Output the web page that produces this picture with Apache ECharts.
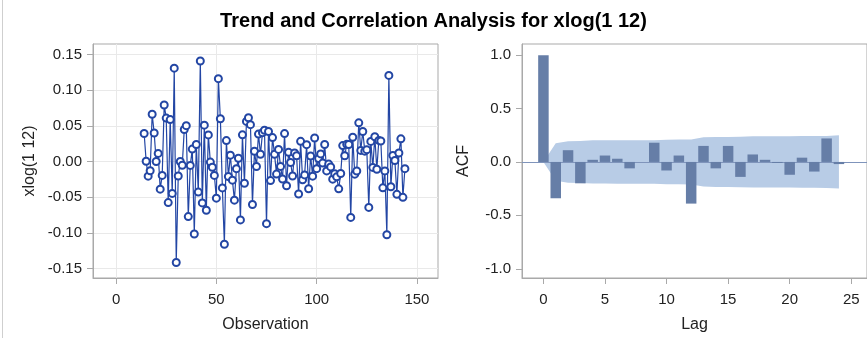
<!DOCTYPE html>
<html><head><meta charset="utf-8">
<script src="https://cdn.jsdelivr.net/npm/echarts@6/dist/echarts.min.js"></script>
<style>html,body{margin:0;padding:0;background:#fff}#c{width:867px;height:338px}</style>
</head><body><div id="c"></div>
<script>
// ---- data ----
const firstObservation = 14;
const xlogValues = [
 0.0392, 0.0004,-0.0205,-0.0129, 0.0662, 0.0399, 0.0000, 0.0114,-0.0387,-0.0194,
 0.0792, 0.0608,-0.0575, 0.0587,-0.0446, 0.1307,-0.1413,-0.0203, 0.0000,-0.0052,
 0.0449, 0.0502,-0.0771,-0.0054, 0.0174,-0.1014, 0.0238,-0.0428, 0.1407,-0.0579,
 0.0509,-0.0682, 0.0373,-0.0008,-0.0080,-0.0194,-0.0513, 0.1160, 0.0599,-0.0369,
-0.1157, 0.0293,-0.0210, 0.0089,-0.0261,-0.0541,-0.0100, 0.0046,-0.0817, 0.0374,
-0.0304, 0.0562, 0.0613, 0.0516,-0.0601, 0.0144,-0.0069, 0.0384, 0.0102, 0.0404,
 0.0438,-0.0869, 0.0421,-0.0267, 0.0335, 0.0101,-0.0176, 0.0170,-0.0068,-0.0246,
 0.0391,-0.0339, 0.0129,-0.0013,-0.0202, 0.0121, 0.0081,-0.0454, 0.0283,-0.0255,
-0.0187, 0.0236,-0.0381, 0.0076,-0.0205, 0.0329,-0.0100, 0.0041, 0.0107,-0.0022,
 0.0239,-0.0131,-0.0036,-0.0075,-0.0247,-0.0172,-0.0214,-0.0382,-0.0167, 0.0223,
 0.0081, 0.0241, 0.0238,-0.0782, 0.0340,-0.0177,-0.0133, 0.0542, 0.0156, 0.0420,
 0.0145, 0.0166,-0.0642, 0.0282,-0.0082, 0.0347,-0.0108, 0.0296, 0.0287,-0.0368,
-0.0131,-0.1024, 0.1205,-0.0353, 0.0086, 0.0014,-0.0459, 0.0120, 0.0318,-0.0501,
-0.0100
];
const lags = [0,1,2,3,4,5,6,7,8,9,10,11,12,13,14,15,16,17,18,19,20,21,22,23,24];
const acfValues = [1.00,-0.34,0.11,-0.20,0.02,0.06,0.03,-0.06,0.00,0.18,-0.08,0.06,-0.39,
                   0.15,-0.06,0.15,-0.14,0.07,0.02,-0.01,-0.12,0.04,-0.09,0.22,-0.02];
const acfBand = [0,0.175,0.194,0.196,0.202,0.202,0.203,0.203,0.203,0.203,0.208,0.209,0.210,
                 0.231,0.234,0.234,0.237,0.240,0.240,0.240,0.240,0.242,0.242,0.243,0.249];
const obsTicks = [0,50,100,150];
const xlogTicks = [-0.15,-0.10,-0.05,0,0.05,0.10,0.15];
const lagTicks = [0,5,10,15,20,25];
const acfTicks = [-1.0,-0.5,0,0.5,1.0];

// ---- styles ----
const FONT = '"Liberation Sans", Arial, sans-serif';
const axisColor = '#a9a9a9';
const gridColor = '#e9e9e9';
const textColor = '#222';
const lineColor = '#2346a4';
const barColor = '#667ea7';
const bandColor = '#b8cce6';

const obsData = xlogValues.map((v,i)=>[firstObservation+i, v]);
const acfData = lags.map((l,i)=>[l, acfValues[i]]);
const bandUp = lags.map((l,i)=>[l, acfBand[i]]);
const bandLo = lags.map((l,i)=>[l, -acfBand[i]]);

function axisCfg(idx, min, max, ticks, name, gap, margin, fmt, split){
  return {type:'value', gridIndex:idx, min:min, max:max,
    axisLine:{show:true, onZero:false, lineStyle:{color:axisColor}},
    axisTick:{show:true, length:6, customValues:ticks, lineStyle:{color:axisColor}},
    axisLabel:{customValues:ticks, margin:margin, fontSize:15, color:textColor, fontFamily:FONT, formatter:fmt},
    splitLine:{show:split, lineStyle:{color:gridColor}},
    name:name, nameLocation:'middle', nameGap:gap,
    nameTextStyle:{fontSize:16, color:textColor, fontFamily:FONT}};
}

const chart = echarts.init(document.getElementById('c'));
chart.setOption({
  animation:false,
  backgroundColor:'#fff',
  title:{text:'Trend and Correlation Analysis for xlog(1 12)', left:'center', top:6,
    textStyle:{fontSize:20, fontWeight:'bold', color:'#000', fontFamily:FONT}},
  graphic:[{type:'line', shape:{x1:2.5,y1:0,x2:2.5,y2:338}, style:{stroke:'#cfcfcf', lineWidth:1}}],
  grid:[
    {left:93, top:44, width:345, height:236, show:true, borderColor:axisColor, borderWidth:1},
    {left:522, top:44, width:348, height:236, show:true, borderColor:axisColor, borderWidth:1}
  ],
  xAxis:[
    axisCfg(0, -11.5, 160.5, obsTicks, 'Observation', 39, 14, v=>String(v), true),
    axisCfg(1, -1.74, 26.28, lagTicks, 'Lag', 39, 14, v=>String(v), false)
  ],
  yAxis:[
    axisCfg(0, -0.163, 0.1645, xlogTicks, 'xlog(1 12)', 55, 11, v=>v.toFixed(2), true),
    axisCfg(1, -1.0865, 1.1042, acfTicks, 'ACF', 50, 11, v=>v.toFixed(1), false)
  ],
  series:[
    {type:'line', xAxisIndex:0, yAxisIndex:0, data:obsData, symbol:'emptyCircle', symbolSize:7,
      showAllSymbol:true, lineStyle:{color:lineColor, width:1.2},
      itemStyle:{color:lineColor, borderWidth:1.2}, silent:true, z:3},
    {type:'line', xAxisIndex:1, yAxisIndex:1, data:bandUp, symbol:'none', z:1,
      lineStyle:{width:0, opacity:0}, areaStyle:{color:bandColor, opacity:1}, silent:true},
    {type:'line', xAxisIndex:1, yAxisIndex:1, data:bandLo, symbol:'none', z:1,
      lineStyle:{width:0, opacity:0}, areaStyle:{color:bandColor, opacity:1}, silent:true},
    {type:'bar', xAxisIndex:1, yAxisIndex:1, data:acfData, barWidth:10.5, z:4,
      itemStyle:{color:barColor}, silent:true,
      markLine:{silent:true, symbol:['none','none'], label:{show:false}, z:2,
        lineStyle:{color:'#7f94bb', width:1, type:'solid'}, data:[{yAxis:0}]}}
  ]
});
</script></body></html>
